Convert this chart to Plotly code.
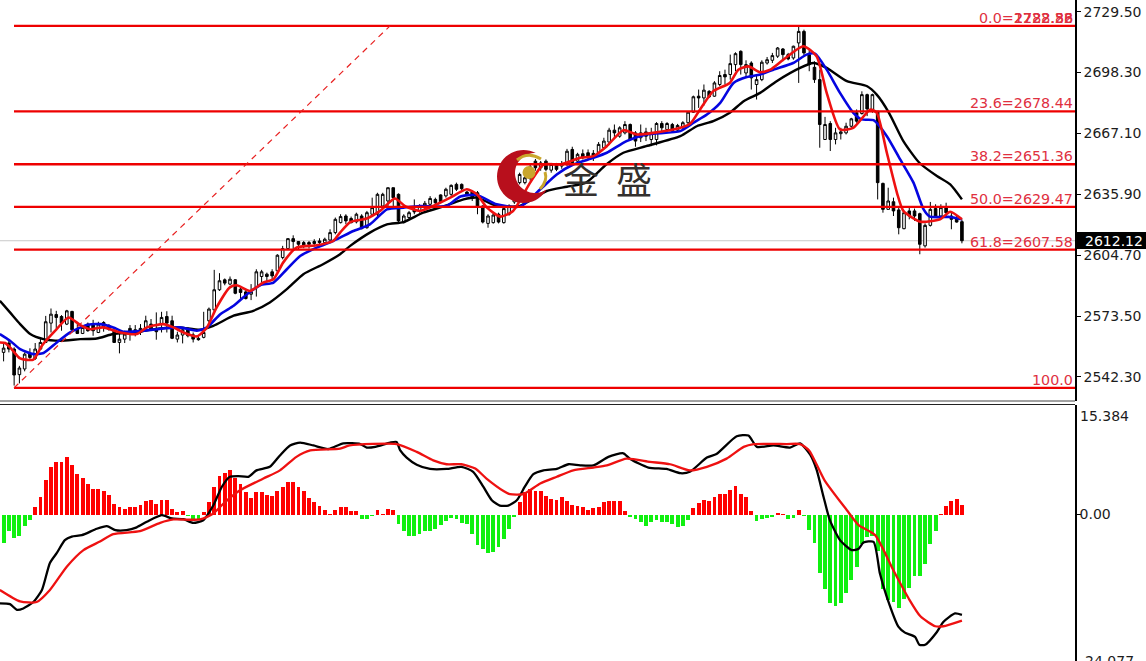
import numpy as np
import plotly.graph_objects as go

# ---------- candles ----------
opens = [2554.9,2559.7,2556.6,2543.5,2546.4,2554.4,2551.8,2556.6,2560,2569.9,
2574.3,2573.3,2569.4,2575.9,2566.8,2564.6,2569.4,2569.4,2565.1,2570.2,
2568.5,2566,2560,2561.7,2567.2,2566.5,2567.2,2567.2,2569.4,2567.2,
2569.4,2573.3,2571.1,2561.7,2563.8,2566.5,2563.9,2562.1,2562.6,2571.1,
2576.7,2587,2592.1,2589.9,2592.1,2587.3,2585.9,2584.7,2588.1,2593.8,
2595,2596.2,2596.7,2603.5,2608.1,2613.2,2611.7,2611.2,2611.2,2611.7,
2612,2611.2,2612.5,2616.3,
2621.4,2624.8,2623.5,2621.8,2624.8,2618.8,2625.7,2625.7,2629.9,2632.5,
2639.3,2635.9,2621.4,2624,2628.2,2627.4,2629.6,2630.8,2633.3,2635.6,
2635.1,2635.9,2641,2641,2637.1,2637.1,2636.7,2629.9,2621,2621.4,
2625.7,2621.4,2625.7,2632,2641.9,2641.9,2644,2652.9,2649.5,2652.9,
2648.3,2651.2,2650.4,2651.2,2658.9,2652.9,2656.7,2657.2,2656.9,2657.2,
2659.8,2662.7,2668.8,2665.7,2667.4,2671.7,2667.4,2664.9,2667.9,2664,
2664,2672.2,2669.1,2671.7,2668.8,
2670,2672.6,2678,2686.2,2685.3,2688.7,2686.2,2692.2,2697.3,2697.3,
2702.4,2709.2,2698.1,2703.2,2692.2,2694.7,2703.2,2704.6,2706.7,2710.4,
2707.5,2705.8,2713.5,2719.4,2707.5,2701,2694.7,2664,2672.2,2664,
2667,2667.4,2670.8,2677.7,2677.3,2687,2679.4,2678.5,2641.5,2628.2,
2632.1,2627.9,2618.3,2627.4,2627.4,2626,2609.5,2620,2628.6,2624.8,
2629.1,2624.8,2623.4,2621.9]
highs = [2559.2,2560.9,2557.5,2548,2554.9,2557,2559.7,2561.7,2573.6,2577.4,
2576.2,2574,2576.7,2576.2,2569.4,2568.9,2570.2,2571.6,2570.6,2570.9,
2569.4,2566.8,2566,2566,2568.9,2568.9,2569.4,2573.7,2572,2575.4,
2575.7,2576,2573.7,2565.5,2566.8,2567.7,2565.1,2563.4,2575.7,2577.9,
2597.2,2595.5,2592.8,2593.8,2592.4,2588.7,2587.3,2589.9,2597.5,2597.2,
2595.8,2597.5,2605.2,2609.5,2613.2,2614.9,2611.7,2612,2612,2612.9,
2613.4,2613.7,2618,2624,
2625.7,2625.7,2624.5,2626.5,2625.7,2627.4,2634.2,2636.7,2636.7,2639.3,
2639.3,2636.4,2625.7,2627.4,2633.3,2630.8,2632.5,2635,2634.2,2635.9,
2639.3,2641,2641.9,2641.5,2637.6,2637.6,2637.6,2630.3,2625.7,2626.5,
2626.5,2629.1,2630.8,2642,2647,2645.3,2651,2654,2653,2653.8,
2652,2652,2653,2659.2,2660.3,2657.2,2658.9,2658.9,2658.6,2662.7,
2664.9,2670,2671.7,2670.8,2673.4,2672.2,2668.3,2671.7,2670,2670,
2672.9,2673.4,2672.9,2672.5,2672,
2673.4,2678.5,2686.5,2689.6,2692.2,2689.3,2693.9,2699,2699.8,2707.5,
2708.7,2709.7,2704.6,2704.1,2697.3,2704.6,2706.3,2708.4,2711.4,2710.9,
2708.4,2712.1,2721.7,2720.3,2710.9,2704.1,2699.8,2675.6,2673.4,2670,
2670,2672.6,2675.1,2679.4,2688.7,2687.5,2687.5,2678.5,2641.9,2639.3,
2634.2,2629.1,2627.4,2629.9,2628.6,2626.5,2621,2632,2630.8,2630.8,
2631.6,2626.5,2624.8,2623.1]
lows = [2550.3,2554.9,2537.9,2539,2545.2,2551.5,2551,2556.2,2560,2565.1,
2566.3,2566,2568.9,2566,2564.3,2564.3,2565.5,2563.4,2564.8,2565.5,
2566,2559.7,2554.4,2559.7,2560.9,2563.1,2563.8,2566.5,2566,2561.4,
2565.1,2565.1,2561.7,2560,2559.5,2562.6,2560,2560.9,2562.1,2570.2,
2576.2,2586.4,2589.3,2589.3,2584.7,2581.3,2582,2581.7,2583.5,2590.7,
2590.7,2591.6,2595.5,2602.6,2607.8,2607.8,2607.8,2608.3,2608.1,2609.1,
2610.3,2610.8,2612,2615.4,
2621,2620.6,2621,2621,2618,2618.3,2624.8,2624.8,2629.6,2629.1,
2629.1,2621.7,2621,2623.1,2625.7,2626.5,2628.2,2629.9,2630.3,2631.3,
2634.2,2635,2637.6,2637.6,2635,2632.5,2625.7,2621,2618.8,2620.9,
2621,2620.9,2625,2631,2641,2641,2643,2648,2648,2647.8,
2647,2647.8,2649,2650.4,2651.7,2652.1,2653.8,2653.8,2653,2656.4,
2658.9,2662.3,2664.4,2664.9,2666.6,2663.7,2660.3,2662.7,2663.2,2660.6,
2661,2667.4,2667.4,2667.4,2667.9,
2669.1,2671.7,2677.7,2680.2,2681.4,2685.3,2685.9,2691.3,2692.2,2694.7,
2699,2697.3,2695.6,2689.6,2684.5,2693.9,2702.4,2703.2,2705.8,2704.1,
2704.6,2704.9,2693,2706.7,2699,2693,2659.8,2664,2658.1,2661.5,
2664,2666.6,2670,2672.6,2676.8,2676,2677.7,2633.3,2626.5,2628.2,
2624.8,2615.4,2618,2623.1,2622.3,2605.2,2608.6,2619.4,2624,2624.3,
2624,2618,2621.4,2610.8]
closes = [2557.1,2556.6,2543.3,2546.9,2554,2552.3,2556.6,2560,2570.6,2574.5,
2572.8,2569.9,2576.2,2566.5,2564.6,2567.7,2566,2566,2569.4,2568.2,
2566.8,2560,2561.7,2564.3,2565.1,2564.3,2565.1,2571.1,2566.8,2565.5,
2572.8,2569.9,2562.1,2563.8,2566.5,2563.4,2561.7,2561.4,2565.1,2577.1,
2587,2591.6,2590.4,2592.4,2585.2,2585.6,2582.5,2585.9,2596.2,2596.2,
2593.8,2594.1,2604.7,2608.1,2613.2,2611.7,2610.3,2610,2610.3,2610.7,
2611.2,2612.9,2616.3,2623.1,
2624.5,2622.3,2621.4,2625.7,2618.3,2626.5,2629.1,2635.9,2635.9,2639.3,
2634.2,2622.3,2624.8,2626.5,2626.9,2629.9,2631.3,2633.8,2631.6,2632.1,
2638.5,2640.5,2638.5,2638.8,2635.9,2634.2,2629.9,2621.7,2624.8,2625.3,
2621.7,2628.6,2629.9,2641,2646.1,2644.4,2650,2649.5,2652,2648.7,
2651.2,2648.7,2651.7,2658,2652.1,2656.4,2654.7,2655.2,2655.2,2661.5,
2663.2,2668.8,2667.4,2670,2671.7,2664,2663.2,2667.4,2665.7,2667.4,
2672.2,2670,2672.2,2668.3,2671.2,
2672.6,2678,2685.9,2685.3,2689.3,2685.9,2693,2696.8,2696.1,2702.9,
2708,2702.4,2702.4,2695.6,2694.7,2703.6,2704.9,2707,2710.9,2707.5,
2705.3,2711.8,2719.4,2708.4,2702.4,2694.7,2671.7,2671.7,2664,2667.4,
2667.9,2670.8,2674.6,2673.4,2687,2679.7,2687,2641.9,2628.2,2632.5,
2627.4,2618.8,2626.5,2624.8,2624.8,2610.3,2620,2628.2,2624.8,2629.1,
2626.5,2623.1,2621.7,2612.12]

# ---------- moving averages: position along the bars / price ----------
ma_red_x = [-.7,.3,1.5,3.1,5.6,7.2,9.7,12.2,14.4,16.2,18.7,21.9,25,26.9,30,31.9,33.8,36.3,38.2,40,42.5,43.8,46.3,48.8,50.7,52.5,55,58.8,61.9,63.2,
65.1,68.2,70.7,73.5,75.4,78.2,81.4,83.9,87,88.9,90.8,93.3,95.7,98.9,101.4,104.6,108.3,110.8,113.3,116.4,118.9,122,127.1,
129,131,133.3,136.4,138,139.9,142.1,144,146.5,150.2,152.7,154.6,157.1,159.6,162.8,164,165.9,167.8,169,172.2,175.9,177.8,180]
ma_red_y = [2560,2559.7,2556.6,2551.8,2551.2,2558.3,2566,2572.8,2568.9,2566.8,2567.7,2565.1,2564.3,2567.7,2569.4,2567.7,2565.1,2563.1,2567.7,2577.9,2588.2,2589.3,2586.4,2590.7,2592.4,2600.9,2608.6,2609.8,2612,2616.3,
2621.7,2623.5,2627.4,2633.8,2629.9,2627.4,2630.8,2634.2,2638.5,2635.9,2629.1,2624.5,2627.4,2641.9,2651.2,2651.2,2654.6,2655.5,2660.6,2668.8,2666.6,2667.4,2670,
2672.2,2680.2,2688.8,2693,2699.8,2701.5,2698.5,2699.8,2705,2711.8,2706.7,2687.9,2669.2,2670,2679.4,2677.7,2657.2,2636.7,2627.4,2621.9,2623.1,2627,2623.1]
ma_blue_x = [-.7,1.2,3.1,5.6,7.5,10,12.5,15.6,18.1,20.6,22.5,26.3,28.8,33.1,36.3,38.2,40.7,43.2,45.7,48.2,50.7,53.2,55.7,58.8,61.9,63.2,
65.7,68.8,72,75.1,78.2,83.2,85.7,88.9,92.6,97,100.8,103.9,107,110.8,113.3,117,120.7,127.1,
129.6,132.1,134.6,137.1,139.6,142.1,144.6,148.3,150.8,152.4,154.6,157.1,159.6,161.2,163.4,165.9,168.4,170.9,172.8,174,177.8,180]
ma_blue_y = [2564.3,2560.9,2556.6,2554,2554.6,2560,2565.1,2568.9,2569.4,2567.7,2565.5,2566,2566.8,2567.7,2566,2567.7,2574.5,2578.8,2584.7,2589.3,2590.7,2597.5,2604.3,2608.6,2612,2613.7,
2617.1,2620.5,2628.2,2629.1,2629.9,2629.9,2634.7,2635.6,2630.8,2629.6,2638.5,2646.1,2651.2,2654.6,2657.2,2663.2,2666.6,2668.3,
2672.6,2676.8,2682.8,2693,2696,2697.3,2699.8,2703.2,2707.5,2708,2699.8,2687.9,2677.7,2674.3,2673.9,2665.7,2653.8,2641.9,2628.2,2624.5,2624.3,2623.1]
ma_black_x = [-.7,1.2,3.1,5,7.5,10.6,14.4,17.5,20.6,24.4,29.4,33.1,36.9,39.4,43.2,46.9,50,53.2,56.3,60,63.2,
65.1,68.8,72,75.1,78.8,83.2,86.4,88.9,92.6,97,102,105.8,109.4,113.2,116.4,120.7,127.1,
130.2,133.3,136.4,139,142.1,145.2,149.6,152.1,154.6,158.4,162.2,164,166.3,169,172,175.3,177.8,180]
ma_black_y = [2581.3,2575.4,2569.4,2564.3,2561.7,2560.9,2561.7,2562,2564.3,2565.1,2567.2,2567.7,2566.5,2568.5,2573.7,2576.2,2580.5,2587.3,2595,2600.1,2605.2,
2609.5,2616.3,2620.5,2621.7,2626.5,2630.2,2633.3,2634.2,2630,2630,2637.6,2639.8,2641.9,2651.2,2657.2,2660.6,2665.7,
2670.8,2673.4,2677.7,2683.6,2687.9,2693.9,2700.7,2703.2,2700.7,2693.9,2691.3,2687,2677.7,2663.2,2652.1,2645.3,2641,2633.3]

# ---------- Fibonacci ----------
fib_labels = ["23.6=2678.44", "38.2=2651.36", "50.0=2629.47", "61.8=2607.58", "100.0"]
fib_prices = [2678.44, 2651.36, 2629.47, 2607.58, 2536.72]
fib_top = 2722.22
fib_top_labels = ["0.0=2722.22", "2722.88", "1288.56"]

price_ticks = [2729.50, 2698.30, 2667.10, 2635.90, 2604.70, 2573.50, 2542.30]
last_price = 2612.12

# ---------- MACD ----------
macd_hist = [-3.9,-2.2,-3.2,-2.9,-1.5,-.65,1.08,2.5,4.9,6.7,
7.5,7.5,8.1,7.0,5.8,5.2,4.35,3.7,3.7,3.4,
2.8,1.6,1.08,.9,1.17,1.08,1.45,2.0,2.1,1.6,
2.1,2.1,.9,.37,.6,-.05,-.6,-.6,.37,1.8,
3.9,5.5,5.9,6.3,5.2,4.35,3.2,2.4,3.2,3.2,
2.8,2.6,3.4,3.9,4.7,4.6,4.0,3.4,2.4,1.8,
1.26,.7,.1,.7,1.08,1.08,.6,.6,-.6,-.6,
-.1,.7,.14,.85,.7,
-1.26,-2.3,-3.0,-2.9,-2.7,-2.3,-2.2,-1.9,-1.36,-.8,
-.4,-.56,-1.17,-1.26,-2.6,-4.2,-4.8,-5.3,-5.15,-4.45,
-3.4,-2.0,-.28,1.8,3.2,3.65,3.4,3.4,2.6,2.25,
2.1,2.5,1.9,1.4,1.26,1.08,.75,.94,1.08,1.8,
2.0,2.0,2.0,.5,-.33,-.56,-.94,-1.5,-.94,-.66,
-.94,-.94,-1.26,-1.64,-1.5,-.66,.94,1.64,2.1,2.0,
2.5,3.0,3.0,3.56,4.07,3.0,2.5,.5,-.8,-.56,
-.42,-.2,.33,.14,-.56,-.42,.7,
-.1,-2.06,-4,-8.1,-10.4,-12.3,-12.8,-12.3,-11,-9.2,
-7.25,-4.07,-3.1,-2.9,-5,-10.4,-12,-12.26,-13,-11.8,
-10.3,-8.6,-8.6,-6.9,-4.07,-2.2,.14,1.3,1.9,2.25,1.4]
macd_black_x = [-.7,1.2,2.5,3.7,5.6,7.2,8.7,10,11.5,12.8,14.7,17.5,19.4,21,23.1,25,26.9,29.7,31.6,33.8,35.6,37.5,39.4,41,42.5,44.1,46,47.5,50,51.9,53.8,55.7,58.2,61,63.8,67,68.2,69.8,72.6,73.8,74.5,
75.7,77.6,80.1,83.2,86,88.2,90.1,91.7,93.2,94.8,96.4,97.9,99.5,101.4,103.9,106.1,108.3,110.8,113.6,116.4,117.7,121.1,124.5,127.1,128.9,132.1,133.9,137.7,139.9,141.5,144.6,147.7,149.6,
151.5,152.7,154,155.2,157.1,159.3,160.6,161.5,163.4,164.6,165.9,168.1,169.3,171.2,172,173.1,175.3,176.5,178.7,180]
macd_black_y = [-12.5,-12.6,-13.4,-13.2,-12.3,-10.6,-6.8,-5.4,-3.6,-3.1,-2.9,-2,-1.64,-2.2,-2.2,-1.8,-1.03,-.1,-.56,-.66,-1.17,-.8,1.3,3.9,5.3,5.4,5.3,6.2,6.7,8.3,9.7,10.1,9.7,9.2,10,9.9,9.4,9.5,10.1,10.2,9,
8,7,6.4,6.4,6.7,6,3.9,2,1.26,1.26,2,3.9,5.66,6.2,6.4,7.06,6.9,6.9,8.1,8.6,7.8,6.6,6.4,5.8,6,8,8.5,11,11.1,9.5,9.7,9.4,10,
8.4,6.3,2.5,-.8,-3.6,-5,-4.8,-3.95,-3.84,-8.3,-11.6,-15.8,-16.6,-17.2,-18.3,-18.3,-16.5,-15.1,-13.9,-14.1]
macd_red_x = [-.7,3.1,6.2,8.7,11.9,15,18.1,20.6,25.6,29.4,31.9,36.9,39.4,41.3,44.4,48.8,51.9,55,57.6,63.2,65,73.8,
77.6,80.7,83.2,86,88.6,90.7,93.9,95.1,97.6,100.8,103.9,107,110.8,113.3,117,121.4,125.2,128.9,132.1,135.8,139,140.9,147.1,149.6,
151.3,154.2,158.4,160.6,163.7,167.1,170,172.2,175,176.5,180]
macd_red_y = [-10.6,-12.2,-12.3,-10.6,-7.3,-5,-3.8,-2.76,-2.34,-1.17,-.7,-.7,.14,1.54,3.4,5.05,6.2,8.1,9,9.25,9.7,9.9,
8.8,7.6,7.06,7.06,6.45,5.05,3.3,2.85,2.85,4.35,5.3,6.2,6.6,6.9,7.85,7.4,7.06,6.2,6.7,7.85,9.5,9.9,9.9,9.9,
9,4.8,.6,-1.5,-2.9,-7.8,-11.8,-14.3,-15.7,-15.7,-14.9]
macd_top_label = "15.384"
macd_bottom_label = "-24.077"

# ---------- geometry ----------
W, H = 1146, 661
RIGHT = 1075
PANEL1_BOTTOM = 401
PANEL2_TOP = 404.5
def px(x): return x / RIGHT
def py(y): return 1 - y / H

N = len(closes)
bar_x = np.arange(N) * 180 / (N - 1)
hist_x = np.arange(len(macd_hist)) * 180 / (len(macd_hist) - 1)
x_range = [-3.6 / 5.324, (RIGHT - 3.6) / 5.324]
P_TOP, P_SCALE = 2735.5, 0.5125
M_ZERO_Y, M_SCALE = 514.5, 0.1405

FONT = "DejaVu Sans"
TXT = "#1c1c1c"
FIB_TXT = "#e0303f"
SM = dict(shape="spline", smoothing=0.6)

fig = go.Figure()
fig.add_trace(go.Candlestick(
    x=bar_x, open=opens, high=highs, low=lows, close=closes,
    increasing=dict(line=dict(color="#000000", width=1), fillcolor="#ffffff"),
    decreasing=dict(line=dict(color="#000000", width=1), fillcolor="#000000"),
    whiskerwidth=0, xaxis="x", yaxis="y", showlegend=False, hoverinfo="skip"))
fig.add_trace(go.Scatter(x=ma_black_x, y=ma_black_y, mode="lines", line=dict(color="#000000", width=2.4, **SM), showlegend=False))
fig.add_trace(go.Scatter(x=ma_blue_x, y=ma_blue_y, mode="lines", line=dict(color="#0505e0", width=2.6, **SM), showlegend=False))
fig.add_trace(go.Scatter(x=ma_red_x, y=ma_red_y, mode="lines", line=dict(color="#ee1111", width=2.6, **SM), showlegend=False))

fib_x0 = (14 - 3.6) / 5.324
fib_x1 = x_range[1]
for p in [fib_top] + fib_prices:
    fig.add_trace(go.Scatter(x=[fib_x0, fib_x1], y=[p, p], mode="lines",
                             line=dict(color="#ee0000", width=2.4), showlegend=False))
fig.add_trace(go.Scatter(x=[fib_x0, (390 - 3.6) / 5.324], y=[fib_prices[-1], fib_top], mode="lines",
                         line=dict(color="#e82020", width=1.2, dash="6px,5px"), showlegend=False))

colors = ["#ff0000" if v >= 0 else "#10f010" for v in macd_hist]
fig.add_trace(go.Bar(x=hist_x, y=macd_hist, marker=dict(color=colors, line=dict(width=0)),
                     width=0.72, xaxis="x2", yaxis="y2", showlegend=False))
fig.add_trace(go.Scatter(x=macd_black_x, y=macd_black_y, mode="lines", line=dict(color="#000000", width=2.3, **SM),
                         xaxis="x2", yaxis="y2", showlegend=False))
fig.add_trace(go.Scatter(x=macd_red_x, y=macd_red_y, mode="lines", line=dict(color="#ee1111", width=2.3, **SM),
                         xaxis="x2", yaxis="y2", showlegend=False))

# ---------- logo ----------
def crescent():
    c1, r1, c2, r2 = (523.5, 176.5), 26.5, (535.0, 173.0), 20.0
    p1 = (546.8, 189.2); p2 = (535.8, 153.0)
    a1 = np.arctan2(p1[1]-c1[1], p1[0]-c1[0]); a2 = np.arctan2(p2[1]-c1[1], p2[0]-c1[0])
    if a2 < a1: a2 += 2*np.pi
    b1 = np.arctan2(p2[1]-c2[1], p2[0]-c2[0]); b2 = np.arctan2(p1[1]-c2[1], p1[0]-c2[0])
    if b1 < b2: b1 += 2*np.pi
    pts = [(c1[0]+r1*np.cos(t), c1[1]+r1*np.sin(t)) for t in np.linspace(a1, a2, 40)]
    pts += [(c2[0]+r2*np.cos(t), c2[1]+r2*np.sin(t)) for t in np.linspace(b1, b2, 40)]
    return "M " + " L ".join(f"{px(x):.5f},{py(y):.5f}" for x, y in pts) + " Z"

shapes = [
    dict(type="line", xref="paper", yref="y", x0=0, x1=1, y0=last_price, y1=last_price,
         line=dict(color="#c8c8c8", width=1), layer="below"),
    dict(type="path", xref="paper", yref="paper", path=crescent(), fillcolor="#b80f1c", line=dict(width=0)),
    dict(type="circle", xref="paper", yref="paper", x0=px(522.5), x1=px(535.5), y0=py(179), y1=py(166),
         fillcolor="#c9a62c", line=dict(width=0)),
    dict(type="path", xref="paper", yref="paper",
         path=f"M {px(517)},{py(160)} Q {px(528)},{py(151)} {px(541)},{py(159)}",
         line=dict(color="#c9a62c", width=3)),
    dict(type="path", xref="paper", yref="paper",
         path=f"M {px(545)},{py(172)} Q {px(548)},{py(181)} {px(540)},{py(189)}",
         line=dict(color="#c9a62c", width=3)),
    dict(type="line", xref="paper", yref="paper", x0=0, x1=1, y0=py(PANEL1_BOTTOM), y1=py(PANEL1_BOTTOM),
         line=dict(color="#444444", width=1)),
    dict(type="line", xref="paper", yref="paper", x0=0, x1=1, y0=py(PANEL2_TOP), y1=py(PANEL2_TOP),
         line=dict(color="#222222", width=1)),
    dict(type="rect", xref="paper", yref="paper", x0=px(1077), x1=px(W), y0=py(249), y1=py(232),
         fillcolor="#000000", line=dict(width=0)),
]

# ---------- texts ----------
ann = []
for lab, p in zip(fib_labels, fib_prices):
    ann.append(dict(xref="paper", yref="y", x=px(1074.5), y=p, yshift=8, text=lab, showarrow=False, xanchor="right",
                    yanchor="middle", font=dict(family=FONT, size=14.3, color=FIB_TXT)))
for lab in fib_top_labels:
    ann.append(dict(xref="paper", yref="y", x=px(1074.5), y=fib_top, yshift=8, text=lab, showarrow=False, xanchor="right",
                    yanchor="middle", font=dict(family=FONT, size=14.3, color=FIB_TXT)))
ann.append(dict(xref="paper", yref="paper", x=px(1083), y=py(240.5), text=f"{last_price:.2f}", showarrow=False,
                xanchor="left", yanchor="middle", font=dict(family=FONT, size=14, color="#ffffff")))
ann.append(dict(xref="paper", yref="paper", x=px(1078), y=py(415.5), text=macd_top_label, showarrow=False,
                xanchor="left", yanchor="middle", font=dict(family=FONT, size=14, color=TXT)))
ann.append(dict(xref="paper", yref="paper", x=px(1078), y=py(661), text=macd_bottom_label, showarrow=False,
                xanchor="left", yanchor="middle", font=dict(family=FONT, size=14, color=TXT)))
ann.append(dict(xref="paper", yref="paper", x=px(581), y=py(178), text="金", showarrow=False, xanchor="center",
                yanchor="middle", font=dict(family="Noto Sans CJK SC", size=36, color="#33302e")))
ann.append(dict(xref="paper", yref="paper", x=px(634), y=py(178), text="盛", showarrow=False, xanchor="center",
                yanchor="middle", font=dict(family="Noto Sans CJK SC", size=36, color="#33302e")))

fig.update_layout(
    width=W, height=H, autosize=False, margin=dict(l=0, r=W-RIGHT, t=0, b=0, pad=0),
    paper_bgcolor="#ffffff", plot_bgcolor="#ffffff", bargap=0, shapes=shapes, annotations=ann,
    xaxis=dict(domain=[0, 1], range=x_range, visible=False, rangeslider=dict(visible=False), fixedrange=True),
    xaxis2=dict(domain=[0, 1], range=x_range, visible=False, anchor="y2", fixedrange=True),
    yaxis=dict(domain=[py(PANEL1_BOTTOM), 1], range=[P_TOP - PANEL1_BOTTOM * P_SCALE, P_TOP], side="right",
               anchor="x", showgrid=False, zeroline=False, showline=True, linecolor="#000000", linewidth=1.5,
               tickmode="array", tickvals=price_ticks, ticktext=[f"{v:.2f}" for v in price_ticks],
               ticks="outside", ticklen=4, tickcolor="#000000", ticklabelstandoff=0,
               tickfont=dict(family=FONT, size=14, color=TXT), fixedrange=True),
    yaxis2=dict(domain=[0, py(PANEL2_TOP)], range=[-(H - M_ZERO_Y) * M_SCALE, (M_ZERO_Y - PANEL2_TOP) * M_SCALE],
                side="right", anchor="x2", showgrid=False, zeroline=False, showline=True, linecolor="#000000",
                linewidth=1.5, tickmode="array", tickvals=[0], ticktext=["0.00"], ticks="outside", ticklen=4,
                tickcolor="#000000", ticklabelstandoff=-4, tickfont=dict(family=FONT, size=14, color=TXT),
                fixedrange=True),
)

fig.write_html("out.html", config=dict(displayModeBar=False),
               post_script="document.body.style.margin='0';document.body.style.overflow='hidden';")
